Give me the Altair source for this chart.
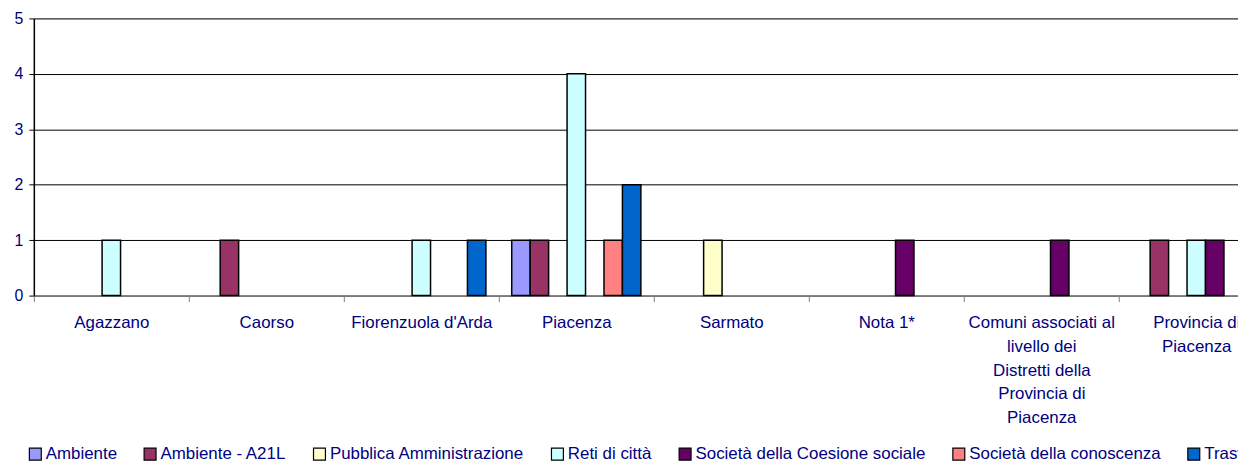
import json
import altair as alt
import pandas as pd

categories = ["Agazzano", "Caorso", "Fiorenzuola d'Arda", "Piacenza", "Sarmato", "Nota 1*",
              "Comuni associati al livello dei Distretti della Provincia di Piacenza",
              "Provincia di Piacenza"]
label_lines = [["Agazzano"], ["Caorso"], ["Fiorenzuola d'Arda"], ["Piacenza"], ["Sarmato"], ["Nota 1*"],
               ["Comuni associati al", "livello dei", "Distretti della", "Provincia di", "Piacenza"],
               ["Provincia di", "Piacenza"]]

series = ["Ambiente", "Ambiente - A21L", "Pubblica Amministrazione", "Reti di città",
          "Società della Coesione sociale", "Società della conoscenza", "Trasversale"]
colors = ["#9999FF", "#993366", "#FFFFCC", "#CCFFFF", "#660066", "#FF8080", "#0066CC"]

ambiente = [0, 0, 0, 1, 0, 0, 0, 0]
ambiente_a21l = [0, 1, 0, 1, 0, 0, 0, 1]
pubblica_amm = [0, 0, 0, 0, 1, 0, 0, 0]
reti_citta = [1, 0, 1, 4, 0, 0, 0, 1]
coesione = [0, 0, 0, 0, 0, 1, 1, 1]
conoscenza = [0, 0, 0, 1, 0, 0, 0, 0]
trasversale = [0, 0, 1, 2, 0, 0, 0, 0]

values = [ambiente, ambiente_a21l, pubblica_amm, reti_citta, coesione, conoscenza, trasversale]

rows = []
for s, vals in zip(series, values):
    for c, v in zip(categories, vals):
        if v:
            rows.append({"Comune": c, "Area": s, "Progetti": v})
df = pd.DataFrame(rows)

label_expr = " : ".join(
    f"datum.label == {json.dumps(c)} ? {json.dumps(lines)}"
    for c, lines in zip(categories, label_lines)
) + " : datum.label"

NAVY = "#000080"
FONT = "Liberation Sans"
BAND = 156

chart = alt.Chart(df).mark_bar(stroke="black", strokeWidth=1.5).encode(
    x=alt.X("Comune:N", sort=categories,
            scale=alt.Scale(domain=categories, paddingInner=0, paddingOuter=0,
                            range=[0, BAND * len(categories)]),
            axis=alt.Axis(title=None, labelAngle=0, labelExpr=label_expr,
                          labelLineHeight=24, labelFontSize=17, labelColor=NAVY,
                          labelFont=FONT, labelLimit=400, labelPadding=13,
                          labelBaseline="top",
                          tickBand="extent", tickColor="#808080", tickSize=6,
                          domainColor="#808080", domainWidth=1.5, grid=False)),
    xOffset=alt.XOffset("Area:N", sort=series,
                        scale=alt.Scale(domain=series, paddingInner=0, paddingOuter=0.7)),
    y=alt.Y("Progetti:Q",
            scale=alt.Scale(domain=[0, 5], nice=False),
            axis=alt.Axis(title=None, values=[0, 1, 2, 3, 4, 5], format="d",
                          labelFontSize=16, labelColor=NAVY, labelFont=FONT,
                          labelPadding=6, tickColor="black", tickSize=5,
                          domainColor="black", domainWidth=1.5,
                          grid=True, gridColor="black", gridWidth=1)),
    fill=alt.Fill("Area:N", sort=series,
                  scale=alt.Scale(domain=series, range=colors),
                  legend=alt.Legend(title=None, orient="none", direction="horizontal",
                                    columns=7, legendX=-7, legendY=430,
                                    symbolType="square", symbolSize=144,
                                    symbolStrokeColor="black", symbolStrokeWidth=1.2,
                                    symbolOpacity=1,
                                    labelFontSize=17, labelColor=NAVY, labelFont=FONT,
                                    labelOffset=2, columnPadding=24.5, labelLimit=400)),
).properties(
    width=1212, height=279,
    autosize=alt.AutoSizeParams(type="none"),
    padding={"left": 26, "top": 9, "right": 0, "bottom": 167},
).configure_view(stroke=None).configure(background="white")

chart.save("out.html", embed_options={"renderer": "svg", "actions": False})
